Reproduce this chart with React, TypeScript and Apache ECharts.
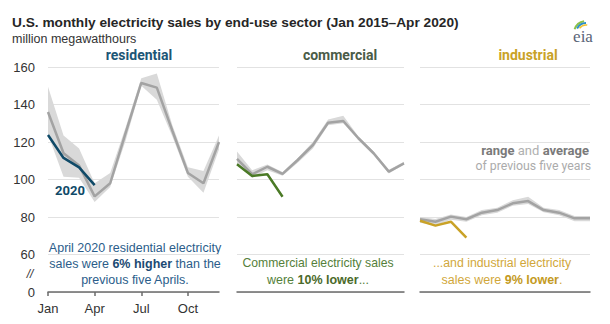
import React, { useEffect, useRef } from "react";
import * as echarts from "echarts";

const months = ["Jan", "Feb", "Mar", "Apr", "May", "Jun", "Jul", "Aug", "Sep", "Oct", "Nov", "Dec"];
const yTicks = [40, 60, 80, 100, 120, 140, 160];

const resAvg = [136, 114, 107.5, 91, 98, 125, 151.5, 149, 126, 103.5, 98, 120];
const resLow = [124, 101.5, 101, 88, 96, 121, 150, 142.5, 123, 101.5, 93, 116];
const resHigh = [149.5, 123.5, 116.5, 98, 103.5, 128, 154, 156.5, 129, 106.5, 104.5, 123.5];
const res2020 = [123.7, 111.5, 106.5, 97];

const comAvg = [111, 102.8, 106.8, 103, 110.4, 118.4, 130.3, 131.2, 122, 114, 104.2, 108.6];
const comLow = [108, 101, 105, 102, 109, 116.5, 129, 130, 121, 113, 103.2, 108];
const comHigh = [115, 105, 108, 104, 111.5, 120, 132, 134, 123, 115, 105.2, 109.5];
const com2020 = [108.1, 101.9, 102.8, 90.8];

const indAvg = [78.8, 77.5, 80.2, 78.8, 82.3, 83.7, 87.3, 88.5, 83.7, 82.3, 79.3, 79.3];
const indLow = [77, 75.5, 78.5, 77.5, 81, 82.3, 86, 87, 82.5, 81, 77.8, 77.8];
const indHigh = [80, 79, 81.3, 80, 83.8, 85, 89, 90.8, 85, 83.8, 80.5, 80.5];
const ind2020 = [78, 75.4, 77.5, 69];

const NARROW = "'Liberation Sans', Arial, sans-serif";
const ROBOTO = "Roboto, 'Liberation Sans', Arial, sans-serif";

export default function App() {
  const ref = useRef<HTMLDivElement>(null);
  useEffect(() => {
    if (!ref.current) return;
    const chart = echarts.init(ref.current, undefined, { renderer: "svg" });
    const grids = [
      { left: 48, top: 67, width: 171, height: 225 },
      { left: 237, top: 67, width: 167, height: 225 },
      { left: 420, top: 67, width: 170, height: 225 },
    ];
    const xAxis = grids.map((_, i) => ({
      type: "category",
      gridIndex: i,
      data: months,
      boundaryGap: false,
      axisLine: { show: true, lineStyle: { color: "#6b6b6b", width: 1.5 } },
      axisTick: {
        show: i === 0,
        interval: (idx: number) => idx % 3 === 0,
        length: 4,
        lineStyle: { color: "#6b6b6b", width: 1.5 },
      },
      axisLabel: {
        show: i === 0,
        interval: (idx: number) => idx % 3 === 0,
        color: "#333",
        fontSize: 13,
        fontFamily: NARROW,
        margin: 10,
      },
      splitLine: { show: false },
    }));
    const yAxis = grids.map((_, i) => ({
      type: "value",
      gridIndex: i,
      min: yTicks[0],
      max: yTicks[yTicks.length - 1],
      interval: 20,
      axisLine: { show: false },
      axisTick: { show: false },
      axisLabel: {
        show: i === 0,
        color: "#333",
        fontSize: 13,
        fontFamily: NARROW,
        margin: 13,
        formatter: (v: number) => (v === 40 ? "0" : String(v)),
      },
      splitLine: { show: true, lineStyle: { color: "#e2e2e2", width: 1 } },
    }));

    const sets = [
      { avg: resAvg, low: resLow, high: resHigh, cur: res2020, color: "#0f4a68" },
      { avg: comAvg, low: comLow, high: comHigh, cur: com2020, color: "#4b7a26" },
      { avg: indAvg, low: indLow, high: indHigh, cur: ind2020, color: "#c9a227" },
    ];
    const series: any[] = [];
    sets.forEach((s, i) => {
      series.push({
        type: "line",
        xAxisIndex: i,
        yAxisIndex: i,
        stack: "band" + i,
        data: s.low,
        symbol: "none",
        lineStyle: { opacity: 0 },
        silent: true,
      });
      series.push({
        type: "line",
        xAxisIndex: i,
        yAxisIndex: i,
        stack: "band" + i,
        data: s.high.map((h, k) => h - s.low[k]),
        symbol: "none",
        lineStyle: { opacity: 0 },
        areaStyle: { color: "#d9d9d9", opacity: 1 },
        silent: true,
      });
      series.push({
        type: "line",
        xAxisIndex: i,
        yAxisIndex: i,
        data: s.avg,
        symbol: "none",
        lineStyle: { color: "#a3a3a3", width: 2.5 },
      });
      series.push({
        type: "line",
        xAxisIndex: i,
        yAxisIndex: i,
        data: s.cur,
        symbol: "none",
        lineStyle: { color: s.color, width: 2.5 },
      });
    });

    const t = (x: number, y: number, text: string, opts: any = {}) => ({
      type: "text",
      x,
      y,
      style: {
        text,
        fontFamily: NARROW,
        fontSize: 12.5,
        fill: "#333",
        align: "left",
        verticalAlign: "middle",
        ...opts,
      },
    });

    const graphic: any[] = [
      t(12, 22, "U.S. monthly electricity sales by end-use sector (Jan 2015\u2013Apr 2020)", {
        fontSize: 13.7,
        fontWeight: "bold",
        fill: "#262626",
      }),
      t(12, 39, "million megawatthours", { fontSize: 12.5, fill: "#333" }),
      t(139, 55, "residential", { fontFamily: ROBOTO, fontSize: 14, fontWeight: "bold", fill: "#1d5676", align: "center" }),
      t(340, 55, "commercial", { fontFamily: ROBOTO, fontSize: 14, fontWeight: "bold", fill: "#4a5b47", align: "center" }),
      t(528, 55, "industrial", { fontFamily: ROBOTO, fontSize: 14, fontWeight: "bold", fill: "#c9a227", align: "center" }),
      t(70, 190, "2020", { fontFamily: ROBOTO, fontSize: 13, fontWeight: "bold", fill: "#0f4a68", align: "center" }),
      t(30, 274, "//", { fontSize: 12, fontStyle: "italic", fill: "#333", align: "center" }),
      {
        type: "text",
        x: 589,
        y: 150,
        style: {
          text: "{b|range} {l|and} {b|average}",
          align: "right",
          verticalAlign: "middle",
          rich: {
            b: { fontFamily: ROBOTO, fontSize: 13, fontWeight: "bold", fill: "#7a7a7a" },
            l: { fontFamily: ROBOTO, fontSize: 13, fill: "#b0b0b0" },
          },
        },
      },
      t(591, 166, "of previous five years", { fontFamily: ROBOTO, fontSize: 12.3, fill: "#ababab", align: "right" }),
      t(135, 248, "April 2020 residential electricity", { fill: "#2b5d8a", align: "center" }),
      {
        type: "text",
        x: 135,
        y: 264,
        style: {
          text: "{n|sales were }{b|6% higher}{n| than the}",
          align: "center",
          verticalAlign: "middle",
          rich: {
            n: { fontFamily: NARROW, fontSize: 12.5, fill: "#2b5d8a" },
            b: { fontFamily: NARROW, fontSize: 12.5, fontWeight: "bold", fill: "#1b4a73" },
          },
        },
      },
      t(135, 280, "previous five Aprils.", { fill: "#2b5d8a", align: "center" }),
      t(318, 263, "Commercial electricity sales", { fontSize: 12.2, fill: "#55803a", align: "center" }),
      {
        type: "text",
        x: 318,
        y: 280,
        style: {
          text: "{n|were }{b|10% lower}{n|...}",
          align: "center",
          verticalAlign: "middle",
          rich: {
            n: { fontFamily: NARROW, fontSize: 12.5, fill: "#55803a" },
            b: { fontFamily: NARROW, fontSize: 12.5, fontWeight: "bold", fill: "#4a6a2a" },
          },
        },
      },
      t(502, 263, "...and industrial electricity", { fontSize: 12.3, fill: "#d1a73a", align: "center" }),
      {
        type: "text",
        x: 502,
        y: 280,
        style: {
          text: "{n|sales were }{b|9% lower}{n|.}",
          align: "center",
          verticalAlign: "middle",
          rich: {
            n: { fontFamily: NARROW, fontSize: 12.5, fill: "#d1a73a" },
            b: { fontFamily: NARROW, fontSize: 12.5, fontWeight: "bold", fill: "#c49a22" },
          },
        },
      },
      // eia logo
      { type: "arc", shape: { cx: 586, cy: 33, r: 12, startAngle: Math.PI * 1.1, endAngle: Math.PI * 1.45 }, style: { stroke: "#8cc04a", lineWidth: 2, fill: "none" } },
      { type: "arc", shape: { cx: 586, cy: 33, r: 10, startAngle: Math.PI * 1.15, endAngle: Math.PI * 1.5 }, style: { stroke: "#2a8fc9", lineWidth: 2, fill: "none" } },
      { type: "arc", shape: { cx: 586, cy: 33, r: 8, startAngle: Math.PI * 1.2, endAngle: Math.PI * 1.55 }, style: { stroke: "#f2c230", lineWidth: 1.5, fill: "none" } },
      t(583, 36, "eia", { fontFamily: "'Liberation Serif', 'DejaVu Serif', serif", fontSize: 17, fill: "#5a6478", align: "center" }),
    ];

    chart.setOption({
      animation: false,
      backgroundColor: "#fff",
      grid: grids,
      xAxis,
      yAxis,
      series,
      graphic,
    });
    return () => chart.dispose();
  }, []);
  return <div ref={ref} style={{ width: 610, height: 324, position: "absolute", left: 0, top: 0 }} />;
}
